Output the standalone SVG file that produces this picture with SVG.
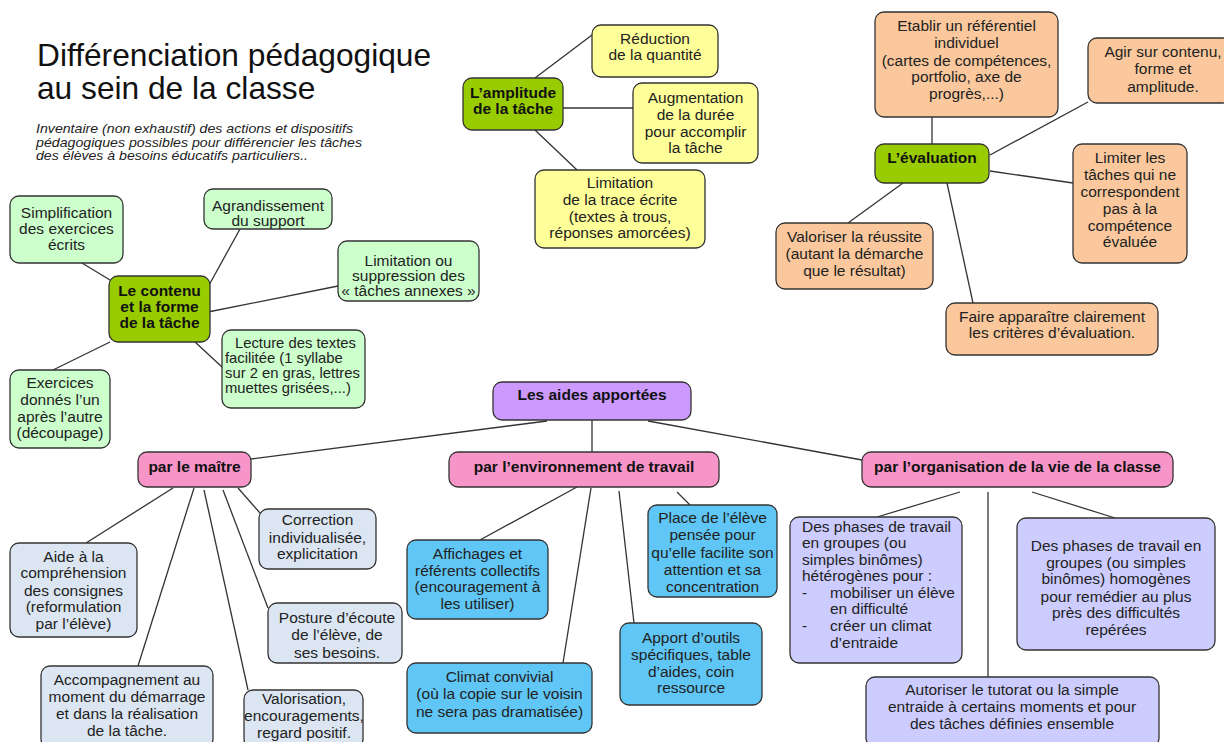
<svg xmlns="http://www.w3.org/2000/svg" width="1224" height="742" viewBox="0 0 1224 742">
<style>
  text{font-family:"Liberation Sans",Arial,sans-serif;font-size:15.5px;fill:#222}
  .c{text-anchor:middle}
  .b{font-weight:bold;fill:#111}
  .sm{font-size:14.8px}
  .title{font-size:31.7px;fill:#111}
  .sub{font-size:12.2px;font-style:italic;fill:#222}
  rect{stroke:#333;stroke-width:1.3;rx:9;ry:9}
  .lg{fill:#ccffcc}
  .dg{fill:#99cc00}
  .ye{fill:#ffff99}
  .or{fill:#fac89c}
  .pu{fill:#cc99ff}
  .pk{fill:#f895c8}
  .lb{fill:#dce6f2}
  .cy{fill:#5fc6f5}
  .lv{fill:#ccccff}
  #connectors line{stroke:#333;stroke-width:1.3}
</style>
<rect x="0" y="0" width="1224" height="742" style="fill:#ffffff;stroke:none"/>

<g id="title">
  <text class="title" x="37" y="66">Différenciation pédagogique</text>
  <text class="title" x="37" y="99">au sein de la classe</text>
  <text class="sub" x="36" y="133" textLength="317" lengthAdjust="spacingAndGlyphs">Inventaire (non exhaustif) des actions et dispositifs</text>
  <text class="sub" x="36" y="146.5" textLength="326" lengthAdjust="spacingAndGlyphs">pédagogiques possibles pour différencier les tâches</text>
  <text class="sub" x="36" y="160" textLength="272" lengthAdjust="spacingAndGlyphs">des élèves à besoins éducatifs particuliers..</text>
</g>

<g id="connectors">
  <line x1="110" y1="280" x2="82" y2="263"/>
  <line x1="208" y1="287" x2="240" y2="229"/>
  <line x1="208" y1="312" x2="338" y2="286"/>
  <line x1="195" y1="342" x2="222" y2="367"/>
  <line x1="110" y1="342" x2="53" y2="370"/>
  <line x1="535" y1="78" x2="592" y2="35"/>
  <line x1="563" y1="108" x2="633" y2="108"/>
  <line x1="535" y1="130" x2="577" y2="170"/>
  <line x1="932" y1="117" x2="932" y2="144"/>
  <line x1="990" y1="155" x2="1088" y2="102"/>
  <line x1="990" y1="171" x2="1073" y2="183"/>
  <line x1="903" y1="183" x2="848" y2="223"/>
  <line x1="947" y1="183" x2="973" y2="303"/>
  <line x1="547" y1="421" x2="251" y2="459"/>
  <line x1="592" y1="420" x2="592" y2="452"/>
  <line x1="648" y1="421" x2="862" y2="460"/>
  <line x1="173" y1="488" x2="86" y2="543"/>
  <line x1="194" y1="488" x2="138" y2="666"/>
  <line x1="204" y1="490" x2="248" y2="690"/>
  <line x1="223" y1="490" x2="268" y2="608"/>
  <line x1="238" y1="488" x2="260" y2="513"/>
  <line x1="577" y1="487" x2="480" y2="540"/>
  <line x1="591" y1="488" x2="563" y2="663"/>
  <line x1="619" y1="491" x2="634" y2="623"/>
  <line x1="677" y1="492" x2="690" y2="505"/>
  <line x1="960" y1="492" x2="877" y2="517"/>
  <line x1="988" y1="492" x2="988" y2="677"/>
  <line x1="1032" y1="492" x2="1115" y2="518"/>
</g>

<!-- Contenu et forme -->
<g id="n-contenu">
  <rect class="dg" x="109" y="276" width="101" height="66"/>
  <text class="c b" x="159.5" y="296">Le contenu</text>
  <text class="c b" x="159.5" y="312">et la forme</text>
  <text class="c b" x="159.5" y="328">de la tâche</text>
</g>
<g id="n-simplification">
  <rect class="lg" x="10" y="196" width="113" height="67"/>
  <text class="c" x="66.5" y="218">Simplification</text>
  <text class="c" x="66.5" y="234">des exercices</text>
  <text class="c" x="66.5" y="250">écrits</text>
</g>
<g id="n-agrandissement">
  <rect class="lg" x="204" y="189" width="128" height="40"/>
  <text class="c" x="268" y="211">Agrandissement</text>
  <text class="c" x="268" y="226">du support</text>
</g>
<g id="n-limitation">
  <rect class="lg" x="338" y="241" width="141" height="60"/>
  <text class="c" x="408.5" y="266">Limitation ou</text>
  <text class="c" x="408.5" y="281">suppression des</text>
  <text class="c" x="408.5" y="296">« tâches annexes »</text>
</g>
<g id="n-lecture">
  <rect class="lg" x="222" y="330" width="143" height="78"/>
  <text class="sm" x="235" y="348">Lecture des textes</text>
  <text class="sm" x="225" y="363">facilitée (1 syllabe</text>
  <text class="sm" x="225" y="378">sur 2 en gras, lettres</text>
  <text class="sm" x="225" y="393">muettes grisées,...)</text>
</g>
<g id="n-exercices">
  <rect class="lg" x="10" y="370" width="100" height="78"/>
  <text class="c" x="60" y="388">Exercices</text>
  <text class="c" x="60" y="405">donnés l’un</text>
  <text class="c" x="60" y="422">après l’autre</text>
  <text class="c" x="60" y="438">(découpage)</text>
</g>

<!-- Amplitude -->
<g id="n-amplitude">
  <rect class="dg" x="463" y="78" width="100" height="52"/>
  <text class="c b" x="513" y="98">L’amplitude</text>
  <text class="c b" x="513" y="114">de la tâche</text>
</g>
<g id="n-reduction">
  <rect class="ye" x="592" y="25" width="126" height="52"/>
  <text class="c" x="655" y="44">Réduction</text>
  <text class="c" x="655" y="60">de la quantité</text>
</g>
<g id="n-augmentation">
  <rect class="ye" x="633" y="83" width="125" height="80"/>
  <text class="c" x="695.5" y="103">Augmentation</text>
  <text class="c" x="695.5" y="120">de la durée</text>
  <text class="c" x="695.5" y="137">pour accomplir</text>
  <text class="c" x="695.5" y="153">la tâche</text>
</g>
<g id="n-trace">
  <rect class="ye" x="535" y="170" width="170" height="78"/>
  <text class="c" x="620" y="188">Limitation</text>
  <text class="c" x="620" y="205">de la trace écrite</text>
  <text class="c" x="620" y="222">(textes à trous,</text>
  <text class="c" x="620" y="238">réponses amorcées)</text>
</g>

<!-- Evaluation -->
<g id="n-evaluation">
  <rect class="dg" x="875" y="144" width="114" height="39"/>
  <text class="c b" x="932" y="163">L’évaluation</text>
</g>
<g id="n-referentiel">
  <rect class="or" x="875" y="12" width="183" height="105"/>
  <text class="c" x="966.5" y="31">Etablir un référentiel</text>
  <text class="c" x="966.5" y="48">individuel</text>
  <text class="c" x="966.5" y="66">(cartes de compétences,</text>
  <text class="c" x="966.5" y="82">portfolio, axe de</text>
  <text class="c" x="966.5" y="99">progrès,...)</text>
</g>
<g id="n-agir">
  <rect class="or" x="1088" y="38" width="144" height="65"/>
  <text class="c" x="1163" y="57">Agir sur contenu,</text>
  <text class="c" x="1163" y="74">forme et</text>
  <text class="c" x="1163" y="92">amplitude.</text>
</g>
<g id="n-limiter">
  <rect class="or" x="1073" y="144" width="114" height="119"/>
  <text class="c" x="1130" y="163">Limiter les</text>
  <text class="c" x="1130" y="180">tâches qui ne</text>
  <text class="c" x="1130" y="197">correspondent</text>
  <text class="c" x="1130" y="214">pas à la</text>
  <text class="c" x="1130" y="231">compétence</text>
  <text class="c" x="1130" y="247">évaluée</text>
</g>
<g id="n-valoriser">
  <rect class="or" x="776" y="223" width="157" height="66"/>
  <text class="c" x="854.5" y="242">Valoriser la réussite</text>
  <text class="c" x="854.5" y="259">(autant la démarche</text>
  <text class="c" x="854.5" y="276">que le résultat)</text>
</g>
<g id="n-criteres">
  <rect class="or" x="946" y="303" width="212" height="52"/>
  <text class="c" x="1052" y="322">Faire apparaître clairement</text>
  <text class="c" x="1052" y="338">les critères d’évaluation.</text>
</g>

<!-- Aides -->
<g id="n-aides">
  <rect class="pu" x="493" y="382" width="198" height="38"/>
  <text class="c b" x="592" y="400">Les aides apportées</text>
</g>
<g id="n-maitre">
  <rect class="pk" x="138" y="452" width="113" height="35"/>
  <text class="c b" x="194.5" y="472">par le maître</text>
</g>
<g id="n-environnement">
  <rect class="pk" x="449" y="452" width="270" height="35"/>
  <text class="c b" x="584" y="472">par l’environnement de travail</text>
</g>
<g id="n-organisation">
  <rect class="pk" x="862" y="452" width="311" height="35"/>
  <text class="c b" x="1017.5" y="472">par l’organisation de la vie de la classe</text>
</g>

<!-- par le maitre -->
<g id="n-aide">
  <rect class="lb" x="10" y="543" width="127" height="94"/>
  <text class="c" x="73.5" y="562">Aide à la</text>
  <text class="c" x="73.5" y="578">compréhension</text>
  <text class="c" x="73.5" y="596">des consignes</text>
  <text class="c" x="73.5" y="612">(reformulation</text>
  <text class="c" x="73.5" y="629">par l’élève)</text>
</g>
<g id="n-correction">
  <rect class="lb" x="259" y="509" width="117" height="60"/>
  <text class="c" x="317.5" y="525">Correction</text>
  <text class="c" x="317.5" y="543">individualisée,</text>
  <text class="c" x="317.5" y="559">explicitation</text>
</g>
<g id="n-posture">
  <rect class="lb" x="268" y="603" width="134" height="60"/>
  <text class="c" x="337" y="623">Posture d’écoute</text>
  <text class="c" x="337" y="640">de l’élève, de</text>
  <text class="c" x="337" y="658">ses besoins.</text>
</g>
<g id="n-accompagnement">
  <rect class="lb" x="41" y="666" width="172" height="82"/>
  <text class="c" x="127" y="685">Accompagnement au</text>
  <text class="c" x="127" y="702">moment du démarrage</text>
  <text class="c" x="127" y="719">et dans la réalisation</text>
  <text class="c" x="127" y="736">de la tâche.</text>
</g>
<g id="n-valorisation">
  <rect class="lb" x="244" y="690" width="119" height="58"/>
  <text class="c" x="304" y="704">Valorisation,</text>
  <text class="c" x="304" y="721">encouragements,</text>
  <text class="c" x="304" y="738">regard positif.</text>
</g>

<!-- par l'environnement -->
<g id="n-affichages">
  <rect class="cy" x="407" y="540" width="141" height="79"/>
  <text class="c" x="477.5" y="559">Affichages et</text>
  <text class="c" x="477.5" y="576">référents collectifs</text>
  <text class="c" x="477.5" y="592">(encouragement à</text>
  <text class="c" x="477.5" y="609">les utiliser)</text>
</g>
<g id="n-place">
  <rect class="cy" x="648" y="505" width="129" height="92"/>
  <text class="c" x="712.5" y="523">Place de l’élève</text>
  <text class="c" x="712.5" y="540">pensée pour</text>
  <text class="c" x="712.5" y="558">qu’elle facilite son</text>
  <text class="c" x="712.5" y="575">attention et sa</text>
  <text class="c" x="712.5" y="592">concentration</text>
</g>
<g id="n-apport">
  <rect class="cy" x="620" y="623" width="142" height="82"/>
  <text class="c" x="691" y="643">Apport d’outils</text>
  <text class="c" x="691" y="660">spécifiques, table</text>
  <text class="c" x="691" y="677">d’aides, coin</text>
  <text class="c" x="691" y="693">ressource</text>
</g>
<g id="n-climat">
  <rect class="cy" x="407" y="663" width="185" height="70"/>
  <text class="c" x="499.5" y="682">Climat convivial</text>
  <text class="c" x="499.5" y="699">(où la copie sur le voisin</text>
  <text class="c" x="499.5" y="717">ne sera pas dramatisée)</text>
</g>

<!-- par l'organisation -->
<g id="n-heterogenes">
  <rect class="lv" x="790" y="517" width="172" height="146"/>
  <text x="802" y="532">Des phases de travail</text>
  <text x="802" y="548">en groupes (ou</text>
  <text x="802" y="565">simples binômes)</text>
  <text x="802" y="581">hétérogènes pour :</text>
  <text x="802" y="598">-</text>
  <text x="830" y="598">mobiliser un élève</text>
  <text x="830" y="614">en difficulté</text>
  <text x="802" y="631">-</text>
  <text x="830" y="631">créer un climat</text>
  <text x="830" y="648">d’entraide</text>
</g>
<g id="n-homogenes">
  <rect class="lv" x="1017" y="518" width="198" height="132"/>
  <text class="c" x="1116" y="551">Des phases de travail en</text>
  <text class="c" x="1116" y="568">groupes (ou simples</text>
  <text class="c" x="1116" y="584">binômes) homogènes</text>
  <text class="c" x="1116" y="602">pour remédier au plus</text>
  <text class="c" x="1116" y="618">près des difficultés</text>
  <text class="c" x="1116" y="635">repérées</text>
</g>
<g id="n-tutorat">
  <rect class="lv" x="866" y="677" width="293" height="70"/>
  <text class="c" x="1012" y="695">Autoriser le tutorat ou la simple</text>
  <text class="c" x="1012" y="712">entraide à certains moments et pour</text>
  <text class="c" x="1012" y="729">des tâches définies ensemble</text>
</g>
</svg>
